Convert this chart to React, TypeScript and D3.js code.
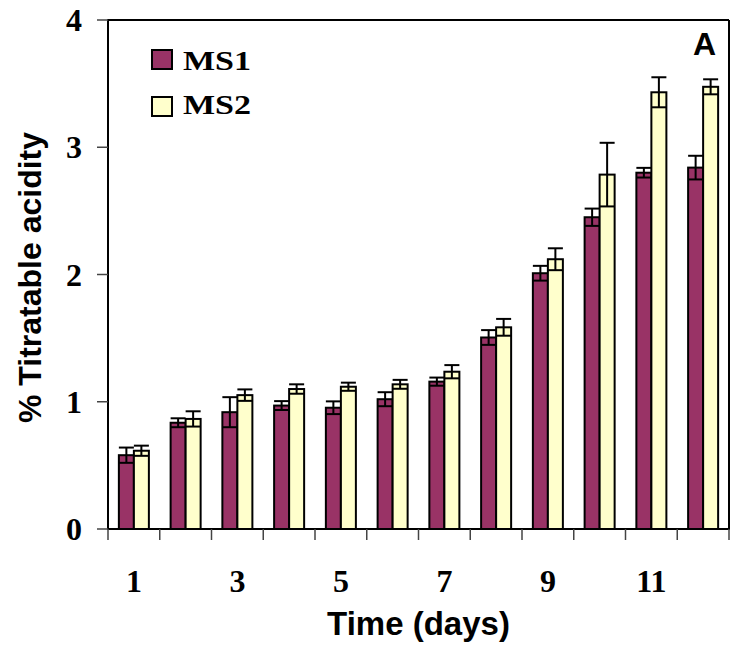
import React from "react";
import * as d3 from "d3";

const days = ["1", "2", "3", "4", "5", "6", "7", "8", "9", "10", "11", "12"];
const shownDayLabels = ["1", "3", "5", "7", "9", "11"];
const seriesNames = ["MS1", "MS2"];
const ms1 = [0.58, 0.835, 0.918, 0.97, 0.953, 1.02, 1.158, 1.505, 2.01, 2.45, 2.8, 2.84];
const ms1Err = [0.06, 0.035, 0.118, 0.035, 0.05, 0.055, 0.032, 0.058, 0.058, 0.068, 0.038, 0.093];
const ms2 = [0.615, 0.865, 1.052, 1.1, 1.118, 1.137, 1.236, 1.585, 2.12, 2.785, 3.432, 3.475];
const ms2Err = [0.04, 0.06, 0.045, 0.037, 0.032, 0.035, 0.052, 0.066, 0.086, 0.25, 0.118, 0.059];
const yTicks = [0, 1, 2, 3, 4];
const colors = ["#993366", "#FFFFCC"];

const W = 730;
const H = 647;
const left = 108;
const right = 729;
const top = 20;
const bottom = 529;

export default function App() {
  const x = d3.scaleBand<string>().domain(days).range([left, right]).padding(0);
  const bw = x.bandwidth();
  const x1 = d3.scaleBand<string>().domain(seriesNames).range([bw * 0.21, bw * 0.79]).padding(0);
  const y = d3.scaleLinear().domain([0, 4]).range([bottom, top]);
  const values = [ms1, ms2];
  const errs = [ms1Err, ms2Err];
  const boundaries = [...days.map((d) => x(d) as number), right];
  const serif = "'Liberation Serif', 'Times New Roman', serif";
  const sans = "'Liberation Sans', Arial, sans-serif";

  return (
    <div style={{ position: "fixed", left: 0, top: 0, width: W, height: H, background: "#fff" }}>
      <svg width={W} height={H} style={{ display: "block" }}>
        <rect x={0} y={0} width={W} height={H} fill="#fff" />
        {/* bars */}
        {seriesNames.map((s, si) =>
          days.map((d, i) => {
            const bx = (x(d) as number) + (x1(s) as number);
            const v = values[si][i];
            return (
              <rect
                key={s + d}
                x={bx}
                y={y(v)}
                width={x1.bandwidth()}
                height={y(0) - y(v)}
                fill={colors[si]}
                stroke="#000"
                strokeWidth={2}
              />
            );
          })
        )}
        {/* error bars */}
        {seriesNames.map((s, si) =>
          days.map((d, i) => {
            const bx = (x(d) as number) + (x1(s) as number);
            const cx = bx + x1.bandwidth() / 2;
            const v = values[si][i];
            const e = errs[si][i];
            const half = x1.bandwidth() / 2;
            return (
              <g key={"e" + s + d} stroke="#000" strokeWidth={2}>
                <line x1={cx} x2={cx} y1={y(v + e)} y2={y(v - e)} />
                <line x1={cx - half} x2={cx + half} y1={y(v + e)} y2={y(v + e)} />
                <line x1={cx - half} x2={cx + half} y1={y(v - e)} y2={y(v - e)} />
              </g>
            );
          })
        )}
        {/* frame */}
        <line x1={left} x2={right} y1={top} y2={top} stroke="#000" strokeWidth={2} />
        <line x1={right} x2={right} y1={top} y2={bottom} stroke="#000" strokeWidth={2} />
        <line x1={left} x2={left} y1={top - 1} y2={bottom + 1} stroke="#000" strokeWidth={2} />
        <line x1={left - 1} x2={right + 1} y1={bottom} y2={bottom} stroke="#000" strokeWidth={2} />
        {/* y ticks */}
        {yTicks.map((t) => (
          <g key={"yt" + t}>
            <line x1={left - 11} x2={left} y1={y(t)} y2={y(t)} stroke="#444" strokeWidth={1.5} />
            <text
              x={82}
              y={y(t) + 11}
              textAnchor="end"
              fontFamily={serif}
              fontWeight="bold"
              fontSize={32}
              fill="#000"
            >
              {t}
            </text>
          </g>
        ))}
        {/* x ticks */}
        {boundaries.map((b, i) => (
          <line key={"xt" + i} x1={b} x2={b} y1={bottom} y2={bottom + 11} stroke="#444" strokeWidth={1.5} />
        ))}
        {days
          .filter((d) => shownDayLabels.includes(d))
          .map((d) => (
            <text
              key={"xl" + d}
              x={(x(d) as number) + bw / 2}
              y={592}
              textAnchor="middle"
              fontFamily={serif}
              fontWeight="bold"
              fontSize={32}
              fill="#000"
            >
              {d}
            </text>
          ))}
        {/* axis titles */}
        <text
          x={(left + right) / 2}
          y={635}
          textAnchor="middle"
          fontFamily={sans}
          fontWeight="bold"
          fontSize={33}
          fill="#000"
        >
          Time (days)
        </text>
        <text
          transform={`translate(41, ${(top + bottom) / 2 + 3}) rotate(-90)`}
          textAnchor="middle"
          fontFamily={sans}
          fontWeight="bold"
          fontSize={32}
          fill="#000"
        >
          % Titratable acidity
        </text>
        {/* panel letter */}
        <text x={716} y={55} textAnchor="end" fontFamily={sans} fontWeight="bold" fontSize={32} fill="#000">
          A
        </text>
        {/* legend */}
        {seriesNames.map((s, si) => (
          <g key={"lg" + s}>
            <rect
              x={152}
              y={50 + si * 47}
              width={20}
              height={19}
              fill={colors[si]}
              stroke="#000"
              strokeWidth={2}
            />
            <text
              x={183}
              y={69.5 + si * 44.5}
              fontFamily={serif}
              fontWeight="bold"
              fontSize={27}
              textLength={68}
              lengthAdjust="spacingAndGlyphs"
              fill="#000"
            >
              {s}
            </text>
          </g>
        ))}
      </svg>
    </div>
  );
}
